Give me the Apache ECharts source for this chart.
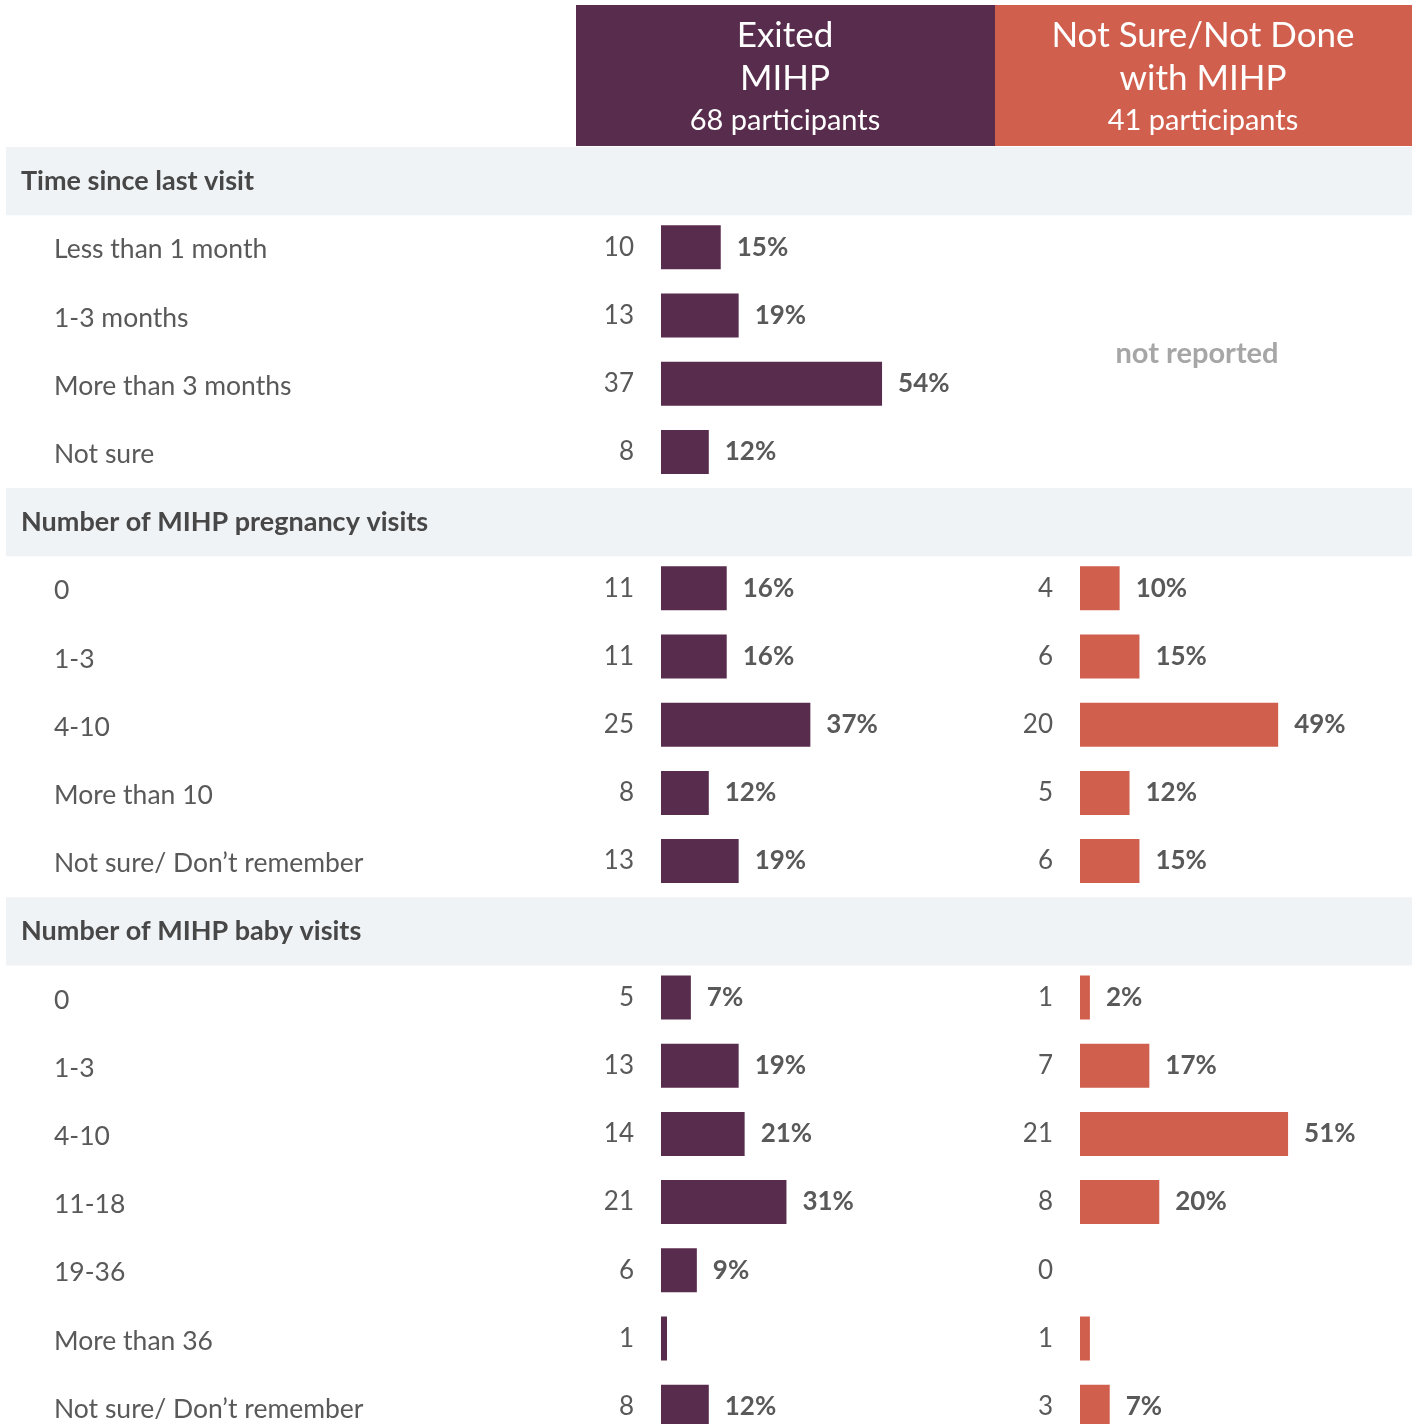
<!DOCTYPE html>
<html><head><meta charset="utf-8">
<script src="https://cdn.jsdelivr.net/npm/echarts@6/dist/echarts.min.js"></script>
<style>html,body{margin:0;padding:0;background:#fff;overflow:hidden}#c{width:1417px;height:1460px}</style>
</head><body><div id="c"></div>
<script>
// ---- data ----
const sectionTitles = ['Time since last visit', 'Number of MIHP pregnancy visits', 'Number of MIHP baby visits'];
const timeRows = ['Less than 1 month', '1-3 months', 'More than 3 months', 'Not sure'];
const pregRows = ['0', '1-3', '4-10', 'More than 10', 'Not sure/ Don\u2019t remember'];
const babyRows = ['0', '1-3', '4-10', '11-18', '19-36', 'More than 36', 'Not sure/ Don\u2019t remember'];

const exitedTotal = 68;
const notSureTotal = 41;

const exitedTime = [10, 13, 37, 8];
const exitedTimePct = ['15%', '19%', '54%', '12%'];
const exitedPreg = [11, 11, 25, 8, 13];
const exitedPregPct = ['16%', '16%', '37%', '12%', '19%'];
const exitedBaby = [5, 13, 14, 21, 6, 1, 8];
const exitedBabyPct = ['7%', '19%', '21%', '31%', '9%', '', '12%'];

const notSureTime = [null, null, null, null]; // not reported
const notSureTimePct = ['', '', '', ''];
const notSurePreg = [4, 6, 20, 5, 6];
const notSurePregPct = ['10%', '15%', '49%', '12%', '15%'];
const notSureBaby = [1, 7, 21, 8, 0, 1, 3];
const notSureBabyPct = ['2%', '17%', '51%', '20%', '', '', '7%'];

// ---- build rows ----
const groups = [
  {title: sectionTitles[0], rows: timeRows, ex: exitedTime, exP: exitedTimePct, ns: notSureTime, nsP: notSureTimePct},
  {title: sectionTitles[1], rows: pregRows, ex: exitedPreg, exP: exitedPregPct, ns: notSurePreg, nsP: notSurePregPct},
  {title: sectionTitles[2], rows: babyRows, ex: exitedBaby, exP: exitedBabyPct, ns: notSureBaby, nsP: notSureBabyPct}
];
const cats = [], isSec = [], exCnt = [], exPct = [], nsCnt = [], nsPct = [];
groups.forEach(g => {
  cats.push(g.title); isSec.push(true); exCnt.push(null); exPct.push(''); nsCnt.push(null); nsPct.push('');
  g.rows.forEach((r, i) => {
    cats.push(r); isSec.push(false);
    exCnt.push(g.ex[i]); exPct.push(g.exP[i]);
    nsCnt.push(g.ns[i]); nsPct.push(g.nsP[i]);
  });
});
const exVal = exCnt.map(v => v == null ? null : v / exitedTotal * 100);
const nsVal = nsCnt.map(v => v == null ? null : v / notSureTotal * 100);

const PURPLE = '#582c4c', ORANGE = '#d15f4e', BAND = '#eff3f6';
const FONT = 'Lato';
const TOP = 147, ROWH = 68.2, H = ROWH * cats.length;

function barSeries(idx, vals, pcts, color) {
  return {
    type: 'bar', xAxisIndex: idx, yAxisIndex: idx, data: vals, barWidth: 44,
    itemStyle: {color: color}, silent: true,
    label: {show: true, position: 'right', distance: 16,
      formatter: p => pcts[p.dataIndex] || '',
      fontFamily: FONT, fontWeight: 'bold', fontSize: 26, color: '#595959'}
  };
}
function countSeries(idx, vals, cnts) {
  return {
    type: 'bar', xAxisIndex: idx, yAxisIndex: idx, data: vals, barWidth: 44, barGap: '-100%',
    itemStyle: {color: 'rgba(0,0,0,0)'}, silent: true, z: 3,
    label: {show: true, position: 'left', distance: 27,
      formatter: p => cnts[p.dataIndex] == null ? '' : String(cnts[p.dataIndex]),
      fontFamily: FONT, fontSize: 26, color: '#595959', padding: [3, 0, 0, 0]}
  };
}
function catAxis(idx, showLabels) {
  return {
    type: 'category', gridIndex: idx, data: cats, inverse: true, z: 10,
    axisLine: {show: false}, axisTick: {show: false}, splitLine: {show: false},
    axisLabel: showLabels ? {
      show: true, inside: true, margin: 15, interval: 0,
      formatter: (v, i) => isSec[i] ? '{h|' + v + '}' : '{i|' + v + '}',
      rich: {
        h: {fontFamily: FONT, fontWeight: 'bold', fontSize: 27, color: '#474747'},
        i: {fontFamily: FONT, fontSize: 26.5, color: '#595959', padding: [1, 0, 0, 33]}
      }
    } : {show: false}
  };
}
function valAxis(idx, max) {
  return {type: 'value', gridIndex: idx, min: 0, max: max, show: false, splitLine: {show: false}};
}

const chart = echarts.init(document.getElementById('c'), null, {renderer: 'canvas'});
chart.setOption({
  animation: false,
  backgroundColor: '#ffffff',
  grid: [
    {left: 6, top: TOP, width: 1406, height: H},
    {left: 661, top: TOP - 2, width: 325, height: H},
    {left: 1080, top: TOP - 2, width: 325, height: H}
  ],
  xAxis: [valAxis(0, 1), valAxis(1, 80), valAxis(2, 80)],
  yAxis: [catAxis(0, true), catAxis(1, false), catAxis(2, false)],
  series: [
    {type: 'bar', xAxisIndex: 0, yAxisIndex: 0, data: isSec.map(s => s ? 1 : null),
     barWidth: '100%', itemStyle: {color: BAND}, silent: true, z: 0},
    barSeries(1, exVal, exPct, PURPLE),
    countSeries(1, exVal, exCnt),
    barSeries(2, nsVal, nsPct, ORANGE),
    countSeries(2, nsVal, nsCnt)
  ],
  graphic: [
    {type: 'rect', shape: {x: 576, y: 5, width: 419, height: 141}, style: {fill: PURPLE}, silent: true},
    {type: 'rect', shape: {x: 995, y: 5, width: 417, height: 141}, style: {fill: ORANGE}, silent: true},
    {type: 'text', x: 785, y: 36, style: {text: 'Exited', fill: '#fff', font: '35px Lato', align: 'center', verticalAlign: 'middle'}},
    {type: 'text', x: 785, y: 79, style: {text: 'MIHP', fill: '#fff', font: '35px Lato', align: 'center', verticalAlign: 'middle'}},
    {type: 'text', x: 785, y: 121, style: {text: '68 participants', fill: '#fff', font: '29px Lato', align: 'center', verticalAlign: 'middle'}},
    {type: 'text', x: 1203, y: 36, style: {text: 'Not Sure/Not Done', fill: '#fff', font: '35px Lato', align: 'center', verticalAlign: 'middle'}},
    {type: 'text', x: 1203, y: 79, style: {text: 'with MIHP', fill: '#fff', font: '35px Lato', align: 'center', verticalAlign: 'middle'}},
    {type: 'text', x: 1203, y: 121, style: {text: '41 participants', fill: '#fff', font: '29px Lato', align: 'center', verticalAlign: 'middle'}},
    {type: 'text', x: 1197, y: 354, style: {text: 'not reported', fill: '#a6a6a6', font: 'bold 29px Lato', align: 'center', verticalAlign: 'middle'}}
  ]
});
</script></body></html>
